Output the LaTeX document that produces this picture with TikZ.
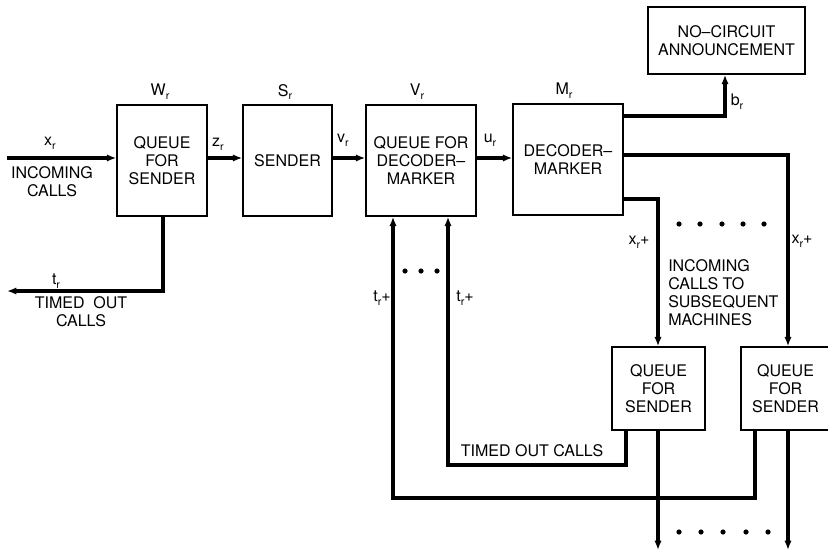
\documentclass[tikz,border=0pt]{standalone}
\usepackage{fontspec}
\setmainfont{TeX Gyre Heros}
\usetikzlibrary{arrows.meta}
\newcommand{\lbsub}[2]{#1\raisebox{-0.45ex}{\footnotesize #2}}
\tikzset{
  bx/.style n args={2}{draw, line width=1.1pt, minimum width=#1*0.75pt, minimum height=#2*0.75pt, inner sep=0pt, align=center, font=\fontsize{12}{13.5}\selectfont},
  arr/.style={line width=2.3pt, -{Latex[length=7pt,width=5.5pt]}},
  lb/.style={font=\fontsize{12}{13.5}\selectfont, inner sep=0pt},
}
\begin{document}
\begin{tikzpicture}[x=0.75pt,y=-0.75pt]
\useasboundingbox (0,0) rectangle (828,553);
% boxes
\node[bx={90}{111}] (W) at (162,160.5) {QUEUE\\FOR\\SENDER};
\node[bx={89}{111}] (S) at (287.5,160.5) {SENDER};
\node[bx={110}{111}] (V) at (421,160.5) {QUEUE FOR\\DECODER--\\MARKER};
\node[bx={110}{111}] (M) at (568,159.5) {DECODER--\\MARKER};
\node[bx={157}{67}] (NC) at (726.5,40.5) {NO--CIRCUIT\\ANNOUNCEMENT};
\node[bx={93}{83}] (Q1) at (658.5,388.5) {QUEUE\\FOR\\SENDER};
\node[bx={89}{83}] (Q2) at (785.5,388.5) {QUEUE\\FOR\\SENDER};
% box labels
\node[lb] (wl) at (160,92) {\lbsub{W}{r}};
\node[lb] (sl) at (285,92) {\lbsub{S}{r}};
\node[lb] (vl) at (417,92) {\lbsub{V}{r}};
\node[lb] (ml) at (564,91) {\lbsub{M}{r}};
% coordinates
\coordinate (in) at (7,158);
\coordinate (wt1) at (163,291);
\coordinate (wt2) at (7,291);
\coordinate (q1d) at (658,550);
\coordinate (q2d) at (788,550);
\coordinate (q1t) at (626,465);
\coordinate (q2t) at (755,498);
% main chain
\draw[arr] (in) -- (in -| W.west);
\draw[arr] (W.east |- 0,158) -- (S.west |- 0,158);
\draw[arr] (S.east |- 0,158) -- (V.west |- 0,158);
\draw[arr] (V.east |- 0,158) -- (M.west |- 0,158);
\draw[arr] (W.south -| wt1) -- (wt1) -- (wt2);
% decoder outputs
\draw[arr] (M.east |- 0,116) -| (NC.south -| 725,0);
\draw[arr] (M.east |- 0,155) -| (Q2.north -| q2d);
\draw[arr] (M.east |- 0,199) -| (Q1.north -| q1d);
% queue outputs
\draw[arr] (Q1.south -| q1d) -- (q1d);
\draw[arr] (Q2.south -| q2d) -- (q2d);
\draw[arr] (Q1.south -| q1t) -- (q1t) -| (V.south -| 448,0);
\draw[arr] (Q2.south -| q2t) -- (q2t) -| (V.south -| 393,0);
% labels
\node[lb] (xr) at (50,143) {\lbsub{x}{r}};
\node[lb, align=center] (inc) at (52,182) {INCOMING\\CALLS};
\node[lb] (zr) at (218,144) {\lbsub{z}{r}};
\node[lb] (vr) at (343,140) {\lbsub{v}{r}};
\node[lb] (ur) at (490,140) {\lbsub{u}{r}};
\node[lb] (tr) at (56,281) {\lbsub{t}{r}};
\node[lb, align=center] (tout) at (81,312) {TIMED\ \ OUT\\CALLS};
\node[lb] (trp1) at (382,298) {\lbsub{t}{r}+};
\node[lb] (trp2) at (465,298) {\lbsub{t}{r}+};
\node[lb] (br) at (737,102) {\lbsub{b}{r}};
\node[lb] (xrp1) at (639,242) {\lbsub{x}{r}+};
\node[lb] (xrp2) at (802,241) {\lbsub{x}{r}+};
\node[lb, align=left, anchor=north west] (sub) at (668,259) {INCOMING\\CALLS TO\\SUBSEQUENT\\MACHINES};
\node[lb] (toc) at (532,451) {TIMED OUT CALLS};
% dots
\foreach \x in {405,421,437} \fill (\x,271) circle (2.6);
\foreach \x in {679,700,722,743,764} \fill (\x,224) circle (2.6);
\foreach \x in {679,701,723,746,768} \fill (\x,532) circle (2.6);
\end{tikzpicture}
\end{document}
